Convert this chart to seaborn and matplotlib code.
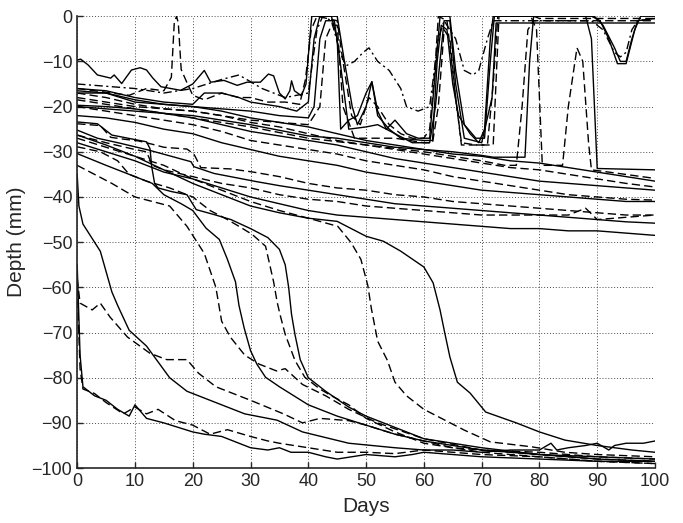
import matplotlib
matplotlib.use("Agg")
import matplotlib.pyplot as plt
import seaborn as sns
import pandas as pd

# --- upper group: (day, depth mm) ---
A1 = [(0, -9.7), (0.6, -9.5), (1.9, -10.8), (3.5, -13), (5.8, -13.7), (6.4, -13), (7.7, -14.9),
      (9.4, -11.9), (10.9, -11.4), (12, -11.9), (13.1, -13.7), (14.5, -15.6), (17.9, -16.4),
      (20, -15), (22, -12), (23.1, -14.6), (25.4, -14.2), (27.7, -15.3), (29.4, -14.6),
      (31.7, -14.6), (33.1, -12.8), (34, -13.2), (35, -17), (36, -18.3), (36.8, -16.5),
      (37.1, -14.3), (37.6, -16.5), (38.8, -17.6), (39.6, -15), (40.2, -5.8), (40.6, 0),
      (45, 0), (46.2, -9.6), (47.6, -20), (48.5, -24), (50, -20), (51, -14.5), (52, -21),
      (53.5, -25), (55, -23), (57, -26), (59, -27), (61, -27), (62, -12), (62.8, 0), (64.5, 0),
      (65.5, -12), (67, -24), (69, -27), (70.5, -27), (71.5, -10), (72.2, 0), (89, 0),
      (90.5, -1), (92, -5), (93.5, -10.5), (95, -10.5), (96.5, -3), (97.5, 0), (100, 0)]
A2 = [(0, -16), (3, -16.5), (6, -17), (9, -17.5), (12, -16), (15, -16.5), (16.3, -13.5),
      (16.8, -1.5), (17.2, 0), (17.5, -1.5), (18, -11.8), (19, -14.7), (20, -17.5), (22, -18.5),
      (25, -17), (28, -18), (30, -18), (33, -19), (36, -19), (38.5, -19.5), (39.5, -14),
      (40.5, -3), (41.5, 0), (45, -1), (46, -10), (47.5, -22), (49, -24), (50.5, -18), (52, -20),
      (54, -24), (56, -26), (58, -27), (60, -27), (61, -25), (62, -10), (62.5, 0), (64, -1),
      (65.5, -18), (66.5, -28), (69, -28.5), (71, -28.5), (72, -15), (72.8, 0), (78.5, 0),
      (79.5, -3), (80.5, -33), (84, -33), (85, -20), (86.5, -7), (87.5, -10), (88.5, -28),
      (89, -34), (92, -34.5), (100, -35.9)]
A3 = [(0, -16), (5, -16.5), (10, -18), (15, -19), (20, -19.5), (22, -17), (25, -17), (28, -18),
      (30, -19), (35, -20), (38, -21), (40, -19), (41, -5), (42, 0), (44, 0), (45, -5),
      (45.6, -25), (47, -23), (48.5, -22), (50, -17), (51, -14.5), (52, -22), (54, -25),
      (56, -27), (60, -27.5), (61.5, -27.5), (62.3, -10), (63, -2), (64, -3), (65, -15),
      (66, -22), (68, -26), (69.5, -28), (70.5, -25), (71.5, -5), (72, 0), (89.5, 0), (91, -2),
      (93, -7), (94, -10), (95, -10), (96, -5), (97, -1), (100, -0.5)]
A4 = [(0, -17), (5, -17), (10, -19), (15, -19.5), (20, -20), (25, -20.5), (30, -21), (35, -22),
      (40, -22.5), (41, -20), (42, -5), (43, -1), (44.5, -1), (45.5, -10), (47, -25),
      (50, -24.5), (52, -24), (55, -26), (58, -28), (61, -28), (62, -20), (63.5, -1),
      (64.5, -1), (65.5, -15), (67, -27), (70, -28), (71.8, -18), (72.5, -1.5), (100, -1.5)]
A5 = [(0, -18), (10, -20), (20, -21), (30, -23), (40, -24), (42, -20), (43, -5), (44, -2),
      (45, -2), (46, -20), (48, -27), (55, -27), (60, -28), (61.5, -28), (62.5, -20),
      (63.5, -3), (64.5, -5), (65.5, -18), (66.5, -28.5), (72, -28.5), (73, 0), (79, 0),
      (80, -0.5), (100, -0.5)]
A6 = [(0, -20), (10, -21), (20, -22), (30, -24), (40, -26.5), (45, -27), (50, -28), (55, -29),
      (60, -29.5), (65, -30), (70, -30.8), (72, -31.2), (77.5, -31.2), (78.3, -10), (79, 0),
      (88, 0), (89, -5), (90, -33.7), (100, -34)]
A7 = [(0, -18.5), (10, -20.5), (20, -22.5), (30, -24.5), (40, -27), (50, -28.5), (60, -30),
      (70, -32), (72, -32.5), (74, -33), (76, -33), (77, -20), (78, -3), (79, -1), (100, -1)]
A8 = [(0, -15), (5, -15.5), (10, -16), (15, -17), (20, -16), (25, -14), (28, -13), (32, -16),
      (36, -18), (40, -17), (41.5, -3), (42.5, 0), (44, -1), (45.5, -8), (46.5, -11), (48, -10),
      (49.5, -8), (50.5, -7), (52, -10), (54, -12), (56, -16), (57, -20), (59, -21), (61, -20),
      (62.5, -5), (63.5, -1), (65.5, -5), (67, -12), (68.5, -13), (69.5, -12), (71, -5),
      (72, -1), (89, -1), (91, -3), (93, -8), (94, -9), (95, -8), (96, -3), (97, -1), (100, -0.5)]

# --- middle group ---
B1 = [(0, -16.5), (5, -17), (10, -18.5), (15, -19.5), (20, -20), (25, -21), (30, -22.5),
      (35, -23.5), (40, -24.5), (45, -26), (50, -27.5), (55, -28.5), (60, -29.5), (65, -30.5),
      (70, -31), (75, -32), (80, -32.5), (85, -33.5), (90, -34.5), (95, -35.5), (100, -36.5)]
B2 = [(0, -17), (5, -18), (10, -19.5), (15, -20.5), (20, -21), (25, -22), (30, -23.5),
      (35, -24.5), (40, -26), (45, -27.5), (50, -28.5), (55, -29.5), (60, -30.5), (65, -31.5),
      (70, -32.5), (75, -33.5), (80, -34), (85, -35), (90, -36), (95, -37), (100, -37.8)]
B3 = [(0, -19.7), (5, -20), (10, -20.5), (15, -21.5), (20, -22.5), (25, -24), (30, -25.5),
      (35, -26.5), (40, -27.5), (45, -28.5), (50, -30), (55, -31.5), (60, -32.5), (65, -33.5),
      (70, -34.5), (75, -35.5), (80, -36.5), (85, -37), (90, -37.5), (95, -38), (100, -38.5)]
B4 = [(0, -20), (5, -21), (10, -22), (15, -23), (20, -24), (25, -25.5), (30, -27.5),
      (35, -28.5), (40, -29.5), (45, -30.5), (50, -32), (55, -33), (60, -34), (65, -35.5),
      (70, -36.5), (75, -37.5), (80, -38.5), (85, -39.5), (90, -40), (95, -40.5), (100, -40.7)]
B5 = [(0, -22), (5, -22.5), (10, -23.5), (15, -25), (20, -26), (25, -28), (30, -29.5),
      (35, -31), (40, -32), (45, -33), (50, -34.5), (55, -35.5), (60, -36.5), (65, -37.5),
      (70, -38.5), (75, -39), (80, -39.5), (85, -40), (90, -40.5), (95, -41), (100, -41)]
B6 = [(0, -23.8), (4, -24.2), (5.8, -26.8), (8, -27.2), (10.6, -27.6), (12.9, -28.3),
      (15, -29), (19, -29.4), (20.2, -30.5), (21.4, -33.5), (26.6, -33.8), (30.5, -34.5),
      (35, -35.5), (40, -37), (45, -38), (50, -38.5), (55, -39.5), (60, -40), (65, -41),
      (70, -41.5), (75, -42), (80, -42.5), (85, -43), (90, -43.5), (95, -44), (100, -44)]
B7 = [(0, -25.2), (3.5, -27), (7.4, -28.1), (12.3, -29.6), (19.7, -32.2), (20.2, -33.3),
      (23.7, -34.8), (31, -36.6), (35, -37.5), (40, -38.5), (45, -39.5), (50, -40.5),
      (55, -41.5), (60, -42), (65, -42.5), (70, -43), (75, -43.5), (80, -44), (85, -44.5),
      (90, -45), (95, -45.5), (100, -45.8)]
B8 = [(0, -28), (5, -30), (10, -32), (15, -34.5), (20, -36), (25, -38), (30, -40), (35, -41.5),
      (40, -43), (45, -44), (50, -44.5), (55, -45), (60, -45.5), (65, -46), (70, -46.5),
      (75, -47), (80, -47), (85, -47.5), (90, -47.5), (95, -48), (100, -48.5)]
B9 = [(0, -26.3), (5, -28), (10, -29.5), (12, -30), (13, -33), (15, -34), (20, -35.5),
      (25, -37), (30, -38), (35, -39.5), (40, -40.5), (45, -41), (50, -42), (55, -42.5),
      (60, -43), (65, -43.5), (70, -44), (75, -44), (80, -44), (85, -44), (88, -42.5),
      (90, -45), (95, -44.5), (100, -44)]

# --- curves that break through ---
C1 = [(0, -33), (6, -37), (8, -38.5), (10, -40), (16, -42), (19, -46.5), (22, -52.5), (24, -60),
      (25, -67.5), (26.5, -71), (29, -75), (31.5, -77), (34.5, -78.5), (36, -78), (39, -81.5),
      (43, -84), (47, -87), (52, -90), (60, -93.5), (70, -96), (80, -96.5), (90, -97.5),
      (100, -98)]
C2 = [(0, -30.4), (5, -33), (10, -35.5), (13, -37), (15, -39.5), (18, -41.5), (20, -43),
      (22.3, -46.9), (24.6, -49.4), (26, -53.8), (27.4, -58.8), (28, -64), (28.9, -69),
      (30, -74), (31.1, -77), (32.6, -79.9), (35, -82), (40, -86), (45, -88.5), (50, -90.5),
      (55, -92.5), (60, -94), (70, -96), (80, -97), (90, -97.5), (100, -98)]
C3 = [(0, -23.4), (3.5, -23.8), (6, -26.3), (12, -27.8), (12.6, -29.3), (12.9, -33.3),
      (13.4, -37), (14, -38), (16.3, -38.8), (19, -39.5), (20.6, -42.8), (23.7, -43.9),
      (26.6, -45), (30, -47), (33, -49), (35, -51.6), (36, -55), (36.6, -60), (37.1, -66),
      (37.7, -70.5), (38.6, -76), (40, -80), (43, -83), (47, -86.5), (50, -88.5), (55, -91),
      (60, -93.5), (70, -95.5), (80, -97), (90, -98), (100, -98.5)]
C4 = [(0, -28.9), (4, -30), (7, -32), (9, -35), (12, -36.5), (16, -38), (20, -40), (23, -43),
      (26, -45), (28, -46.5), (30.3, -48.3), (32.6, -50.9), (34, -58.8), (34.6, -63.2),
      (35.1, -66), (36, -70.4), (37.7, -76.2), (39.4, -79.9), (42, -82.5), (44, -84),
      (47, -86), (50, -89), (55, -92), (60, -94.5), (70, -96.5), (80, -97.5), (90, -98.5),
      (100, -99)]
C5 = [(0, -27), (5, -29), (10, -31), (15, -33), (20, -36), (25, -38.5), (30, -41), (35, -43),
      (40, -44.7), (45.1, -46.5), (47.4, -50.1), (49.1, -53.8), (50.3, -59.6), (50.9, -64.6),
      (52, -71.9), (53.7, -76.2), (55, -81), (57, -84), (60, -87), (67, -91.6), (71.5, -94.2),
      (78.7, -95.3), (84.4, -96.5), (90, -97), (100, -97.5)]
C6 = [(0, -26.3), (5, -28.5), (10, -31), (15, -34), (20, -37), (25, -39.5), (30, -42),
      (35, -43.5), (40, -44.7), (45, -45.4), (50, -48.7), (53, -49.8), (56, -52), (60, -55.5),
      (61.6, -59), (62.8, -65), (63.6, -70), (64.5, -75.4), (65.8, -81), (68, -83.4),
      (70.7, -87.6), (76, -90), (80, -92), (84.4, -93.8), (90, -95), (96, -96), (100, -96.5)]

# --- deep group ---
D1 = [(0, -35), (0.3, -42), (1, -46), (2, -48), (4, -52), (6, -61), (7, -64), (9, -69.5),
      (12, -73), (16, -80), (19, -83), (24, -85.5), (29, -88), (34.6, -89.4), (39, -92),
      (47, -94.5), (55, -95.5), (60, -96), (65, -96), (70, -96.5), (75, -96), (80, -96),
      (82, -94.5), (83, -96), (85, -95.5), (88, -95), (90, -94.5), (92, -96), (93, -95),
      (95, -94.5), (98, -94.5), (100, -94)]
D2 = [(0, -58), (0.5, -63.5), (2.6, -65), (4, -63.5), (5.7, -66.6), (8.7, -71), (12.6, -74.6),
      (15.5, -76), (19, -76), (21, -79), (24, -82), (30, -85), (35.7, -88), (39, -90),
      (42, -89), (47, -89.5), (50, -90.5), (55, -92.5), (60, -94), (65, -95.5), (70, -96),
      (80, -97), (90, -98), (100, -98.5)]
D3 = [(0, -55), (0.5, -75), (1, -82), (3, -84), (5, -85), (7, -87), (9, -88.5), (10, -86),
      (12, -89), (15, -90), (20, -92), (22, -92.5), (25, -93), (27, -94), (30, -95.5),
      (33, -96), (35, -95.5), (37, -96.5), (40, -96.5), (43, -97.5), (45, -98), (50, -97),
      (55, -97.5), (58, -97), (60, -96.5), (70, -97.5), (80, -98), (90, -98.5), (100, -98.5)]
D4 = [(0, -60), (0.5, -78), (1, -82.5), (3, -83.5), (5, -85.5), (8, -88), (10, -86.5),
      (12, -88), (14, -87), (17, -89.5), (20, -90.5), (23, -92.5), (26, -91.5), (30, -93),
      (33, -94), (35, -94.5), (40, -95.5), (45, -96.5), (50, -96.5), (55, -96.8), (60, -96),
      (70, -97), (80, -97.5), (90, -98.5), (100, -99)]

SERIES = {
    "A1": (A1, "solid"), "A2": (A2, "dashed"), "A3": (A3, "solid"), "A4": (A4, "solid"),
    "A5": (A5, "dashed"), "A6": (A6, "solid"), "A7": (A7, "dashed"), "A8": (A8, "dashdot"),
    "B1": (B1, "solid"), "B2": (B2, "dashed"), "B3": (B3, "solid"), "B4": (B4, "dashed"),
    "B5": (B5, "solid"), "B6": (B6, "dashed"), "B7": (B7, "solid"), "B8": (B8, "solid"),
    "B9": (B9, "dashed"),
    "C1": (C1, "dashed"), "C2": (C2, "solid"), "C3": (C3, "solid"), "C4": (C4, "dashed"),
    "C5": (C5, "dashed"), "C6": (C6, "solid"),
    "D1": (D1, "solid"), "D2": (D2, "dashed"), "D3": (D3, "solid"), "D4": (D4, "dashed"),
}

rows = []
for name, (pts, kind) in SERIES.items():
    for day, depth in pts:
        rows.append({"line": name, "kind": kind, "Days": day, "Depth": depth})
df = pd.DataFrame(rows)

sns.set_style("ticks")
plt.rcParams["font.family"] = ["Liberation Sans", "DejaVu Sans"]

fig = plt.figure(figsize=(6.83, 5.23), dpi=100)
ax = fig.add_axes([0.113, 0.105, 0.846, 0.864])

sns.lineplot(data=df, x="Days", y="Depth", units="line", style="kind",
             estimator=None, sort=False, color="black", linewidth=1.0,
             dashes={"solid": "", "dashed": (6, 3), "dashdot": (6, 2.5, 1.5, 2.5)},
             legend=False, ax=ax)

ax.set_xlim(0, 100)
ax.set_ylim(-100, 0)
ax.set_xticks(range(0, 101, 10))
ax.set_yticks(range(-100, 1, 10))
ax.grid(True, linestyle=(0, (1, 2)), color="black", linewidth=0.7, alpha=0.7)
ax.tick_params(direction="in", length=4, labelsize=13, width=1)
for s in ["top", "right"]:
    ax.spines[s].set_visible(False)
for s in ["left", "bottom"]:
    ax.spines[s].set_linewidth(1.2)
ax.set_xlabel("Days", fontsize=15, labelpad=5)
ax.set_ylabel("Depth (mm)", fontsize=15, labelpad=4)

fig.savefig("out.png", dpi=100)
